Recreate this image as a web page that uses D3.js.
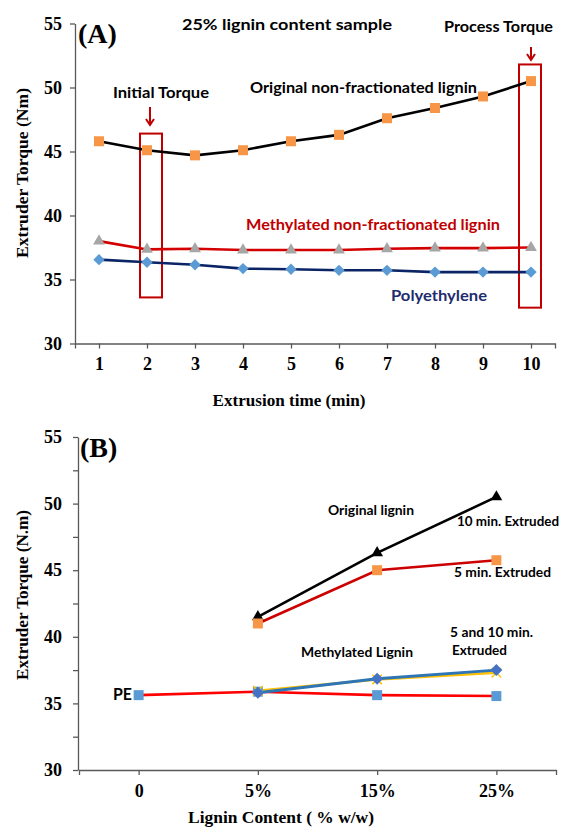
<!DOCTYPE html>
<html><head><meta charset="utf-8">
<script src="https://cdn.jsdelivr.net/npm/d3@7"></script>
<style>body{margin:0;background:#fff}svg{display:block}</style>
</head><body>
<svg id="c" width="563" height="828"></svg>
<script>
// ---------- DATA ----------
const timeMin = [1,2,3,4,5,6,7,8,9,10];
const origA = [45.8,45.1,44.7,45.1,45.8,46.3,47.6,48.4,49.3,50.5];
const methA = [38.0,37.35,37.4,37.3,37.3,37.3,37.4,37.45,37.45,37.5];
const peA   = [36.55,36.35,36.15,35.85,35.8,35.72,35.72,35.58,35.58,35.58];
const yTicks = [30,35,40,45,50,55];
const yMinorB = [32.5,37.5,42.5,47.5,52.5];

const contentB = ["0","5%","15%","25%"];
const orig10B = [null,41.5,46.3,50.5];
const orig5B  = [null,41.0,45.0,45.75];
const peB     = [35.62,35.88,35.62,35.55];
const meth5B  = [null,35.95,36.8,37.3];
const meth10B = [null,35.8,36.85,37.5];

// ---------- SETUP ----------
const svg = d3.select("#c");
const serif = "'Liberation Serif','Times New Roman',serif";
const sans = "Lato,'Open Sans','Noto Sans',sans-serif";
const axisCol = "#595959";

function styleAxis(g){
  g.select(".domain").attr("stroke",axisCol).attr("stroke-width",1.3);
  g.selectAll(".tick line").attr("stroke",axisCol).attr("stroke-width",1.3);
  g.selectAll(".tick text").attr("fill","#000").attr("font-family",serif)
   .attr("font-weight","bold").attr("font-size",18);
}
function label(x,y,txt,opts={}){
  const t = svg.append("text").attr("x",x).attr("y",y).text(txt)
    .attr("font-family",opts.family||sans).attr("font-weight","bold")
    .attr("font-size",opts.size||15).attr("fill",opts.fill||"#000")
    .attr("text-anchor",opts.anchor||"start");
  if(opts.len) t.attr("textLength",opts.len).attr("lengthAdjust","spacingAndGlyphs");
  if(opts.rotate) t.attr("transform",`rotate(-90,${x},${y})`);
  return t;
}
function arrow(x,y1,y2,col){
  svg.append("line").attr("x1",x).attr("x2",x).attr("y1",y1).attr("y2",y2)
    .attr("stroke",col).attr("stroke-width",2);
  svg.append("path").attr("d",`M${x-4},${y2-6}L${x},${y2}L${x+4},${y2-6}`)
    .attr("fill","none").attr("stroke",col).attr("stroke-width",2);
}

// ---------- PANEL A ----------
const xA = d3.scaleLinear().domain([0.5,10.5]).range([75,555]);
const yA = d3.scaleLinear().domain([30,55]).range([343.5,23.5]);

svg.append("g").attr("transform","translate(75,0)")
  .call(d3.axisLeft(yA).tickValues(yTicks).tickSize(5).tickPadding(8).tickSizeOuter(0))
  .call(styleAxis);
svg.append("g").attr("transform",`translate(0,${yA(30)})`)
  .call(d3.axisBottom(xA).tickValues(timeMin).tickSize(5).tickPadding(9).tickSizeOuter(5))
  .call(styleAxis);

const lineA = vals => d3.line().x((d,i)=>xA(timeMin[i])).y(d=>yA(d))(vals);

// boxes (annotation rectangles)
const boxes = [{cat:2,top:46.4,bot:33.6,dl:-7,dr:15},{cat:10,top:51.8,bot:32.8,dl:-12,dr:10}];
boxes.forEach(b=>{
  svg.append("rect").attr("x",xA(b.cat)+b.dl).attr("y",yA(b.top))
    .attr("width",b.dr-b.dl).attr("height",yA(b.bot)-yA(b.top))
    .attr("fill","none").attr("stroke","#c00000").attr("stroke-width",2);
});

svg.append("path").attr("d",lineA(peA)).attr("fill","none").attr("stroke","#0a2466").attr("stroke-width",2.6);
svg.append("path").attr("d",lineA(methA)).attr("fill","none").attr("stroke","#d40000").attr("stroke-width",2.6);
svg.append("path").attr("d",lineA(origA)).attr("fill","none").attr("stroke","#000").attr("stroke-width",2.6);

svg.selectAll(".pA").data(peA).enter().append("path")
  .attr("d",d3.symbol(d3.symbolSquare,64))
  .attr("transform",(d,i)=>`translate(${xA(timeMin[i])},${yA(d)}) rotate(45)`)
  .attr("fill","#5b9bd5");
svg.selectAll(".mA").data(methA).enter().append("path")
  .attr("d",d3.symbol(d3.symbolTriangle,60))
  .attr("transform",(d,i)=>`translate(${xA(timeMin[i])},${yA(d)})`)
  .attr("fill","#a6a6a6");
svg.selectAll(".oA").data(origA).enter().append("path")
  .attr("d",d3.symbol(d3.symbolSquare,100))
  .attr("transform",(d,i)=>`translate(${xA(timeMin[i])},${yA(d)})`)
  .attr("fill","#f79646");

arrow(xA(2)+3,107,125,"#c00000");
arrow(xA(10),47,60,"#c00000");

label(78,43,"(A)",{family:serif,size:28});
label(182,30,"25% lignin content sample",{size:16,len:210});
label(444,32,"Process Torque",{size:15,len:109});
label(113,98,"Initial Torque",{size:15,len:96});
label(250,92.5,"Original non-fractionated lignin",{size:15,len:227});
label(246,230,"Methylated non-fractionated lignin",{size:15,len:254,fill:"#c00000"});
label(391,301,"Polyethylene",{size:15,len:96,fill:"#1f2d6e"});
label(289,406,"Extrusion time (min)",{family:serif,size:17,anchor:"middle",len:153});
label(28,173,"Extruder Torque (Nm)",{family:serif,size:17,anchor:"middle",rotate:true,len:170});

// ---------- PANEL B ----------
const xB = d3.scaleLinear().domain([-0.5,3.5]).range([79,556]);
const yB = d3.scaleLinear().domain([30,55]).range([770,437]);

svg.append("g").attr("transform","translate(78,0)")
  .call(d3.axisLeft(yB).tickValues(yTicks.concat(yMinorB)).tickSize(5).tickPadding(11).tickSizeOuter(0)
    .tickFormat(d=>yTicks.includes(d)?d:""))
  .call(styleAxis);
svg.append("g").attr("transform",`translate(0,${yB(30)})`)
  .call(d3.axisBottom(xB).tickValues([0,1,2,3]).tickFormat(i=>contentB[i]).tickSize(5).tickPadding(9).tickSizeOuter(5))
  .call(styleAxis);

const lineB = vals => d3.line().defined(d=>d!=null).x((d,i)=>xB(i)).y(d=>yB(d))(vals);

svg.append("path").attr("d",lineB(peB)).attr("fill","none").attr("stroke","#ff0000").attr("stroke-width",2.6);
svg.append("path").attr("d",lineB(meth5B)).attr("fill","none").attr("stroke","#ffc000").attr("stroke-width",2.6);
svg.append("path").attr("d",lineB(meth10B)).attr("fill","none").attr("stroke","#2e75b6").attr("stroke-width",2.8);
svg.append("path").attr("d",lineB(orig10B)).attr("fill","none").attr("stroke","#000").attr("stroke-width",2.6);
svg.append("path").attr("d",lineB(orig5B)).attr("fill","none").attr("stroke","#cc0000").attr("stroke-width",2.6);

const ptsB = (vals)=>vals.map((v,i)=>({i,v})).filter(d=>d.v!=null);
svg.selectAll(".peB").data(ptsB(peB)).enter().append("path")
  .attr("d",d3.symbol(d3.symbolSquare,100))
  .attr("transform",d=>`translate(${xB(d.i)},${yB(d.v)})`).attr("fill","#5b9bd5");
svg.selectAll(".m5B").data(ptsB(meth5B)).enter().append("path")
  .attr("d",d3.symbol(d3.symbolX,60))
  .attr("transform",d=>`translate(${xB(d.i)},${yB(d.v)})`).attr("fill","none").attr("stroke","#ffc000").attr("stroke-width",1.5);
svg.selectAll(".m10B").data(ptsB(meth10B)).enter().append("path")
  .attr("d",d3.symbol(d3.symbolSquare,72))
  .attr("transform",d=>`translate(${xB(d.i)},${yB(d.v)}) rotate(45)`).attr("fill","#4472c4");
svg.selectAll(".o10B").data(ptsB(orig10B)).enter().append("path")
  .attr("d",d3.symbol(d3.symbolTriangle,60))
  .attr("transform",d=>`translate(${xB(d.i)},${yB(d.v)})`).attr("fill","#000");
svg.selectAll(".o5B").data(ptsB(orig5B)).enter().append("path")
  .attr("d",d3.symbol(d3.symbolSquare,100))
  .attr("transform",d=>`translate(${xB(d.i)},${yB(d.v)})`).attr("fill","#f79646");

label(80,457,"(B)",{family:serif,size:28});
label(328,515,"Original lignin",{size:14,len:86});
label(457,526,"10 min. Extruded",{size:14,len:102});
label(454,577,"5 min. Extruded",{size:14,len:97});
label(450,637,"5 and 10 min.",{size:14,len:83});
label(452,655,"Extruded",{size:14,len:55});
label(301,657,"Methylated Lignin",{size:14,len:112});
label(113,700,"PE",{size:17,len:19});
label(281,823,"Lignin  Content ( % w/w)",{family:serif,size:17,anchor:"middle",len:186});
label(28,595,"Extruder Torque (N.m)",{family:serif,size:17,anchor:"middle",rotate:true,len:170});
</script>
</body></html>
